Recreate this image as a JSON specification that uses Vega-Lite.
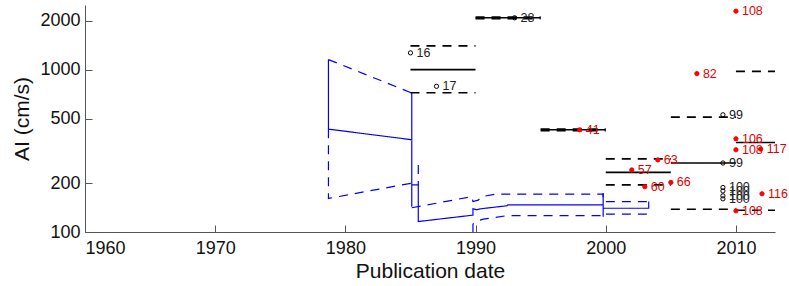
{
  "$schema": "https://vega.github.io/schema/vega-lite/v6.json",
  "width": 690,
  "height": 227,
  "autosize": {"type": "none"},
  "padding": {"left": 85, "top": 5, "right": 14, "bottom": 54},
  "background": "white",
  "config": {
    "view": {"stroke": null},
    "font": "Liberation Sans",
    "axis": {
      "grid": false,
      "domainColor": "#555555",
      "tickColor": "#555555",
      "labelColor": "#111111",
      "titleColor": "#111111",
      "labelFont": "Liberation Sans",
      "titleFont": "Liberation Sans",
      "labelFontSize": 18,
      "titleFontSize": 21,
      "titleFontWeight": "normal",
      "tickSize": -7,
      "domainWidth": 1
    }
  },
  "datasets": {
    "blue": [
      {"piece": "a", "series": "mean", "i": 1, "year": 1978.7, "ai": 1153},
      {"piece": "a", "series": "mean", "i": 2, "year": 1978.7, "ai": 430},
      {"piece": "a", "series": "mean", "i": 3, "year": 1985.1, "ai": 370},
      {"piece": "a", "series": "mean", "i": 4, "year": 1985.1, "ai": 718},
      {"piece": "a", "series": "mean", "i": 5, "year": 1985.1, "ai": 143},
      {"piece": "a", "series": "mean", "i": 6, "year": 1985.1, "ai": 195},
      {"piece": "a", "series": "mean", "i": 7, "year": 1985.6, "ai": 195},
      {"piece": "a", "series": "mean", "i": 8, "year": 1985.6, "ai": 116},
      {"piece": "a", "series": "mean", "i": 9, "year": 1989.8, "ai": 127},
      {"piece": "a", "series": "mean", "i": 10, "year": 1989.8, "ai": 139},
      {"piece": "a", "series": "mean", "i": 11, "year": 1990.1, "ai": 137},
      {"piece": "a", "series": "mean", "i": 12, "year": 1990.4, "ai": 139},
      {"piece": "a", "series": "mean", "i": 13, "year": 1992.4, "ai": 145},
      {"piece": "a", "series": "mean", "i": 14, "year": 1992.5, "ai": 147},
      {"piece": "a", "series": "mean", "i": 15, "year": 1999.8, "ai": 147},
      {"piece": "a", "series": "mean", "i": 16, "year": 1999.8, "ai": 174},
      {"piece": "a", "series": "mean", "i": 17, "year": 1999.8, "ai": 124},
      {"piece": "a", "series": "mean", "i": 18, "year": 1999.8, "ai": 140},
      {"piece": "a", "series": "mean", "i": 19, "year": 2003.3, "ai": 140},
      {"piece": "a", "series": "mean", "i": 20, "year": 2003.3, "ai": 154},
      {"piece": "b", "series": "bound", "i": 1, "year": 1978.7, "ai": 1153},
      {"piece": "b", "series": "bound", "i": 2, "year": 1985.1, "ai": 718},
      {"piece": "c", "series": "bound", "i": 1, "year": 1985.1, "ai": 141},
      {"piece": "c", "series": "bound", "i": 2, "year": 1989.7, "ai": 165},
      {"piece": "c", "series": "bound", "i": 3, "year": 1989.8, "ai": 154},
      {"piece": "c", "series": "bound", "i": 4, "year": 1990.2, "ai": 157},
      {"piece": "c", "series": "bound", "i": 5, "year": 1990.5, "ai": 165},
      {"piece": "c", "series": "bound", "i": 6, "year": 1991.5, "ai": 171},
      {"piece": "c", "series": "bound", "i": 7, "year": 1999.8, "ai": 171},
      {"piece": "c", "series": "bound", "i": 8, "year": 1999.8, "ai": 154},
      {"piece": "c", "series": "bound", "i": 9, "year": 2003.3, "ai": 154},
      {"piece": "d", "series": "bound", "i": 1, "year": 1978.7, "ai": 430},
      {"piece": "d", "series": "bound", "i": 2, "year": 1978.7, "ai": 161},
      {"piece": "d", "series": "bound", "i": 3, "year": 1985.1, "ai": 200},
      {"piece": "e", "series": "bound", "i": 1, "year": 1985.6, "ai": 259},
      {"piece": "e", "series": "bound", "i": 2, "year": 1985.6, "ai": 195},
      {"piece": "f", "series": "bound", "i": 1, "year": 1989.8, "ai": 100},
      {"piece": "f", "series": "bound", "i": 2, "year": 1989.8, "ai": 112},
      {"piece": "f", "series": "bound", "i": 3, "year": 1990.3, "ai": 118},
      {"piece": "f", "series": "bound", "i": 4, "year": 1990.6, "ai": 120},
      {"piece": "f", "series": "bound", "i": 5, "year": 1992.4, "ai": 126},
      {"piece": "f", "series": "bound", "i": 6, "year": 1999.8, "ai": 126},
      {"piece": "f", "series": "bound", "i": 7, "year": 1999.8, "ai": 129},
      {"piece": "f", "series": "bound", "i": 8, "year": 2003.3, "ai": 129}
    ],
    "black": [
      {"group": "g1m", "series": "mean", "year": 1985, "ai": 1000},
      {"group": "g1m", "series": "mean", "year": 1990, "ai": 1000},
      {"group": "g1u", "series": "bound", "year": 1985, "ai": 1400},
      {"group": "g1u", "series": "bound", "year": 1990, "ai": 1400},
      {"group": "g1l", "series": "bound", "year": 1985, "ai": 720},
      {"group": "g1l", "series": "bound", "year": 1990, "ai": 720},
      {"group": "g2m", "series": "mean", "year": 1990, "ai": 2085},
      {"group": "g2m", "series": "mean", "year": 1995, "ai": 2085},
      {"group": "g2u", "series": "bound", "year": 1990, "ai": 2110},
      {"group": "g2u", "series": "bound", "year": 1995, "ai": 2110},
      {"group": "g2l", "series": "bound", "year": 1990, "ai": 2060},
      {"group": "g2l", "series": "bound", "year": 1995, "ai": 2060},
      {"group": "g3m", "series": "mean", "year": 1995, "ai": 426},
      {"group": "g3m", "series": "mean", "year": 2000, "ai": 426},
      {"group": "g3u", "series": "bound", "year": 1995, "ai": 431},
      {"group": "g3u", "series": "bound", "year": 2000, "ai": 431},
      {"group": "g3l", "series": "bound", "year": 1995, "ai": 421},
      {"group": "g3l", "series": "bound", "year": 2000, "ai": 421},
      {"group": "g4m", "series": "mean", "year": 2000, "ai": 233},
      {"group": "g4m", "series": "mean", "year": 2005, "ai": 233},
      {"group": "g4u", "series": "bound", "year": 2000, "ai": 282},
      {"group": "g4u", "series": "bound", "year": 2005, "ai": 282},
      {"group": "g4l", "series": "bound", "year": 2000, "ai": 195},
      {"group": "g4l", "series": "bound", "year": 2005, "ai": 195},
      {"group": "g5m", "series": "mean", "year": 2005, "ai": 266},
      {"group": "g5m", "series": "mean", "year": 2010, "ai": 266},
      {"group": "g5u", "series": "bound", "year": 2005, "ai": 510},
      {"group": "g5u", "series": "bound", "year": 2010, "ai": 510},
      {"group": "g5l", "series": "bound", "year": 2005, "ai": 138},
      {"group": "g5l", "series": "bound", "year": 2010, "ai": 138},
      {"group": "g6m", "series": "mean", "year": 2010, "ai": 356},
      {"group": "g6m", "series": "mean", "year": 2015, "ai": 356},
      {"group": "g6u", "series": "bound", "year": 2010, "ai": 976},
      {"group": "g6u", "series": "bound", "year": 2015, "ai": 976},
      {"group": "g6l", "series": "bound", "year": 2010, "ai": 136},
      {"group": "g6l", "series": "bound", "year": 2015, "ai": 136}
    ],
    "pts": [
      {"year": 1985, "ai": 1268, "label": "16", "kind": "open"},
      {"year": 1987, "ai": 789, "label": "17", "kind": "open"},
      {"year": 1993, "ai": 2085, "label": "28", "kind": "open"},
      {"year": 1998, "ai": 426, "label": "41", "kind": "filled"},
      {"year": 2002, "ai": 241, "label": "57", "kind": "filled"},
      {"year": 2003, "ai": 190, "label": "60", "kind": "filled"},
      {"year": 2004, "ai": 278, "label": "63", "kind": "filled"},
      {"year": 2005, "ai": 202, "label": "66", "kind": "filled"},
      {"year": 2007, "ai": 945, "label": "82", "kind": "filled"},
      {"year": 2009, "ai": 527, "label": "99", "kind": "open"},
      {"year": 2009, "ai": 266, "label": "99", "kind": "open"},
      {"year": 2009, "ai": 188, "label": "100", "kind": "open"},
      {"year": 2009, "ai": 179, "label": "100", "kind": "open"},
      {"year": 2009, "ai": 167, "label": "100", "kind": "open"},
      {"year": 2009, "ai": 160, "label": "100", "kind": "open"},
      {"year": 2010, "ai": 375, "label": "106", "kind": "filled"},
      {"year": 2010, "ai": 2291, "label": "108", "kind": "filled"},
      {"year": 2010, "ai": 321, "label": "108", "kind": "filled"},
      {"year": 2010, "ai": 135, "label": "108", "kind": "filled"},
      {"year": 2011.9, "ai": 324, "label": "117", "kind": "filled"},
      {"year": 2012, "ai": 172, "label": "116", "kind": "filled"}
    ]
  },
  "encoding": {
    "x": {
      "field": "year",
      "type": "quantitative",
      "scale": {"domain": [1960, 2013], "nice": false, "zero": false},
      "axis": {
        "title": "Publication date",
        "values": [1960, 1970, 1980, 1990, 2000, 2010],
        "format": "d",
        "labelPadding": 14,
        "titleY": 45,
        "titleBaseline": "alphabetic"
      }
    },
    "y": {
      "field": "ai",
      "type": "quantitative",
      "scale": {"type": "log", "domain": [100, 2500], "nice": false},
      "axis": {
        "title": "AI (cm/s)",
        "values": [100, 200, 500, 1000, 2000],
        "format": "d",
        "labelPadding": 12,
        "titleX": -63,
        "titleBaseline": "middle"
      }
    }
  },
  "layer": [
    {
      "data": {"name": "blue"},
      "mark": {"type": "line", "color": "#0000ff", "strokeWidth": 1.2, "clip": true},
      "encoding": {
        "detail": {"field": "piece"},
        "order": {"field": "i", "type": "quantitative"},
        "strokeDash": {
          "field": "series",
          "type": "nominal",
          "scale": {"domain": ["mean", "bound"], "range": [[1, 0], [9, 7]]},
          "legend": null
        }
      }
    },
    {
      "data": {"name": "black"},
      "mark": {"type": "line", "color": "black", "strokeWidth": 1.6, "clip": true},
      "encoding": {
        "detail": {"field": "group"},
        "strokeDash": {
          "field": "series",
          "type": "nominal",
          "scale": {"domain": ["mean", "bound"], "range": [[1, 0], [9, 9]]},
          "legend": null
        }
      }
    },
    {
      "data": {"name": "pts"},
      "mark": {"type": "point", "shape": "circle", "filled": false, "strokeWidth": 1, "opacity": 1},
      "encoding": {
        "size": {"value": 18},
        "stroke": {
          "field": "kind",
          "type": "nominal",
          "scale": {"domain": ["open", "filled"], "range": ["black", "#ff0000"]},
          "legend": null
        },
        "fill": {
          "field": "kind",
          "type": "nominal",
          "scale": {"domain": ["open", "filled"], "range": ["transparent", "#ff0000"]},
          "legend": null
        }
      }
    },
    {
      "data": {"name": "pts"},
      "mark": {"type": "text", "align": "left", "baseline": "middle", "dx": 6, "fontSize": 12.5, "font": "Liberation Sans"},
      "encoding": {
        "text": {"field": "label"},
        "color": {
          "field": "kind",
          "type": "nominal",
          "scale": {"domain": ["open", "filled"], "range": ["#222222", "#e00000"]},
          "legend": null
        }
      }
    }
  ]
}
